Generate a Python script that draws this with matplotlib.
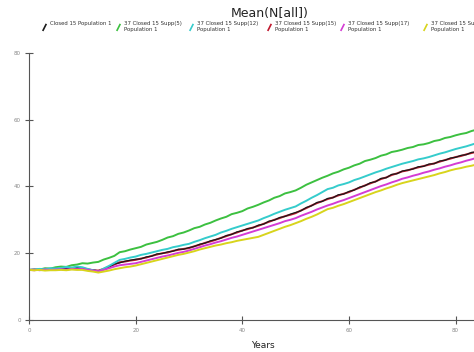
import numpy as np
import matplotlib
matplotlib.use("Agg")
import matplotlib.pyplot as plt
from matplotlib.lines import Line2D

# Mean population size per year for each scenario
years = np.arange(0, 85)

closed15 = [15.0, 15.1, 15.0, 15.2, 15.1, 15.4, 15.3, 15.5, 15.4, 15.7,
            15.6, 15.1, 15.0, 14.7, 15.1, 15.8, 16.8, 17.1, 17.6, 17.9,
            18.2, 18.3, 18.9, 19.1, 19.8, 19.9, 20.4, 20.6, 21.2, 21.2,
            21.7, 22.0, 22.7, 23.0, 23.7, 24.1, 24.5, 25.3, 25.6, 26.4,
            26.7, 27.4, 27.6, 28.4, 28.7, 29.6, 29.9, 30.7, 31.0, 31.7,
            32.2, 32.7, 33.7, 34.2, 35.2, 35.5, 36.4, 36.6, 37.5, 37.7,
            38.5, 38.9, 39.8, 40.2, 41.1, 41.4, 42.4, 42.6, 43.6, 43.8,
            44.6, 44.9, 45.2, 45.9, 46.0, 46.7, 46.8, 47.6, 47.8, 48.5,
            48.7, 49.3, 49.5, 50.2, 50.3]

supp5 = [15.0, 15.2, 15.1, 15.5, 15.4, 15.8, 16.0, 15.9, 16.4, 16.6,
         17.0, 16.9, 17.2, 17.4, 18.1, 18.6, 19.2, 20.3, 20.6, 21.1,
         21.5, 21.9, 22.6, 23.0, 23.4, 24.0, 24.7, 25.1, 25.8, 26.2,
         26.8, 27.5, 27.9, 28.6, 29.1, 29.8, 30.4, 30.9, 31.7, 32.1,
         32.6, 33.4, 33.9, 34.5, 35.2, 35.8, 36.6, 37.1, 37.9, 38.3,
         38.8, 39.6, 40.5, 41.2, 41.9, 42.6, 43.2, 43.9, 44.4, 45.1,
         45.6, 46.3, 46.8, 47.6, 48.0, 48.5, 49.2, 49.6, 50.3, 50.6,
         51.0, 51.5, 51.8, 52.4, 52.6, 53.0, 53.6, 53.9, 54.5, 54.8,
         55.3, 55.7, 56.0, 56.6, 57.0]

supp12 = [15.0, 15.1, 15.3, 15.2, 15.5, 15.4, 15.6, 15.9, 15.7, 16.0,
          15.8, 15.3, 14.9, 14.5, 15.4, 16.2, 17.1, 18.0, 18.3, 18.7,
          19.0, 19.5, 19.8, 20.2, 20.6, 21.0, 21.3, 21.8, 22.1, 22.5,
          22.8, 23.4, 23.9, 24.5, 25.0, 25.5, 26.2, 26.7, 27.3, 27.8,
          28.3, 28.8, 29.3, 29.8, 30.5, 31.1, 31.8, 32.4, 33.0, 33.5,
          34.0, 34.9, 35.7, 36.6, 37.4, 38.3, 39.2, 39.6, 40.3, 40.7,
          41.2, 41.9, 42.4, 43.0, 43.6, 44.2, 44.7, 45.3, 45.8, 46.3,
          46.8, 47.2, 47.6, 48.1, 48.4, 48.8, 49.3, 49.8, 50.2, 50.7,
          51.2, 51.6, 52.0, 52.5, 53.0]

supp15 = [15.0, 14.9, 15.1, 15.0, 15.3, 15.2, 15.4, 15.3, 15.6, 15.5,
          15.5, 15.2, 14.9, 14.8, 15.3, 16.0, 16.6, 17.3, 17.5, 17.8,
          18.0, 18.4, 18.7, 19.2, 19.6, 20.0, 20.2, 20.7, 21.0, 21.3,
          21.5, 22.1, 22.5, 23.1, 23.5, 24.0, 24.6, 25.1, 25.7, 26.2,
          26.8, 27.2, 27.7, 28.2, 28.8, 29.4, 30.0, 30.5, 31.1, 31.5,
          32.0, 32.8, 33.5, 34.3, 35.0, 35.6, 36.2, 36.7, 37.3, 37.8,
          38.3, 39.0, 39.6, 40.3, 40.9, 41.5, 42.2, 42.7, 43.4, 43.9,
          44.5, 44.8, 45.3, 45.7, 46.1, 46.5, 46.9, 47.4, 47.9, 48.3,
          48.8, 49.1, 49.6, 50.0, 50.4]

supp17 = [15.0, 15.1, 14.9, 15.1, 15.0, 15.1, 15.2, 15.1, 15.3, 15.2,
          15.3, 15.0, 14.8, 14.6, 15.0, 15.5, 16.0, 16.4, 16.6, 16.8,
          17.0, 17.4, 17.8, 18.2, 18.6, 19.0, 19.3, 19.7, 20.1, 20.4,
          20.8, 21.3, 21.8, 22.3, 22.7, 23.2, 23.6, 24.1, 24.6, 25.0,
          25.5, 26.0, 26.5, 27.0, 27.5, 28.0, 28.5, 29.0, 29.6, 30.0,
          30.5, 31.2, 31.8, 32.4, 33.1, 33.7, 34.3, 34.8, 35.4, 35.9,
          36.5, 37.1, 37.7, 38.3, 38.9, 39.5, 40.1, 40.6, 41.2, 41.7,
          42.3, 42.7, 43.2, 43.6, 44.1, 44.5, 45.0, 45.4, 45.9, 46.3,
          46.8, 47.2, 47.7, 48.1, 48.6]

supp20 = [15.0, 14.9, 15.0, 14.8, 14.9, 14.9, 15.0, 14.9, 15.1, 15.0,
          15.0, 14.7, 14.5, 14.2, 14.5, 14.8, 15.2, 15.5, 15.8, 16.0,
          16.3, 16.7, 17.1, 17.5, 17.9, 18.3, 18.7, 19.1, 19.5, 19.8,
          20.2, 20.6, 21.1, 21.5, 21.9, 22.3, 22.6, 23.0, 23.3, 23.7,
          24.0, 24.3, 24.6, 24.9, 25.5, 26.1, 26.7, 27.3, 27.9, 28.4,
          29.0, 29.6, 30.3, 30.9, 31.6, 32.4, 33.2, 33.6, 34.2, 34.7,
          35.3, 35.9, 36.5, 37.1, 37.7, 38.3, 38.8, 39.4, 39.9, 40.5,
          41.0, 41.4, 41.8, 42.2, 42.6, 43.0, 43.4, 43.9, 44.3, 44.8,
          45.2, 45.5, 45.9, 46.2, 46.6]

labels = ["Closed 15 Population 1",
          "37 Closed 15 Supp(5)\nPopulation 1",
          "37 Closed 15 Supp(12)\nPopulation 1",
          "37 Closed 15 Supp(15)\nPopulation 1",
          "37 Closed 15 Supp(17)\nPopulation 1",
          "37 Closed 15 Supp(20)\nPopulation 1"]
series = [closed15, supp5, supp12, supp15, supp17, supp20]
colors = ["#1a1a1a", "#3cc040", "#35cccc", "#c0182e", "#d43cd4", "#d8d41c"]

fig = plt.figure(figsize=(4.74, 3.52), dpi=100)
ax = fig.add_axes([0.0612, 0.0909, 0.9388, 0.759])

# red first, black thin on top -> the pair reads dark red
order = [3, 0, 1, 2, 4, 5]
for i in order:
    lw = 0.9 if i == 0 else 1.4
    ax.plot(years, series[i], color=colors[i], lw=lw)

ax.set_xlim(0, 83.45)
ax.set_ylim(0, 80)
ax.set_xticks([0, 20, 40, 60, 80])
ax.set_yticks([0, 20, 40, 60, 80])
ax.spines["top"].set_visible(False)
ax.spines["right"].set_visible(False)
for s in ["left", "bottom"]:
    ax.spines[s].set_color("#555555")
    ax.spines[s].set_linewidth(0.8)
ax.tick_params(direction="inout", length=6, width=0.8, color="#555555",
               labelsize=4, labelcolor="#888888", pad=3)

fig.text(263 / 474, 1 - 345 / 352, "Years", ha="center", va="center",
         fontsize=6.5, color="#222222")
fig.text(270 / 474, 1 - 14 / 352, "Mean(N[all])", ha="center", va="center",
         fontsize=9, color="#222222")

# legend row across the top
mark_x = [45, 119, 192, 270, 343, 426]
for k in range(6):
    x0 = mark_x[k] / 474
    y0 = 1 - 26 / 352
    fig.add_artist(Line2D([x0 - 0.004, x0 + 0.002], [y0 - 0.012, y0 + 0.004],
                          transform=fig.transFigure, color=colors[k], lw=1.2))
    fig.text(x0 + 0.011, 1 - 21 / 352, labels[k], ha="left", va="top",
             fontsize=3.9, color="#333333", linespacing=1.3)

fig.savefig("out.png", dpi=100)
